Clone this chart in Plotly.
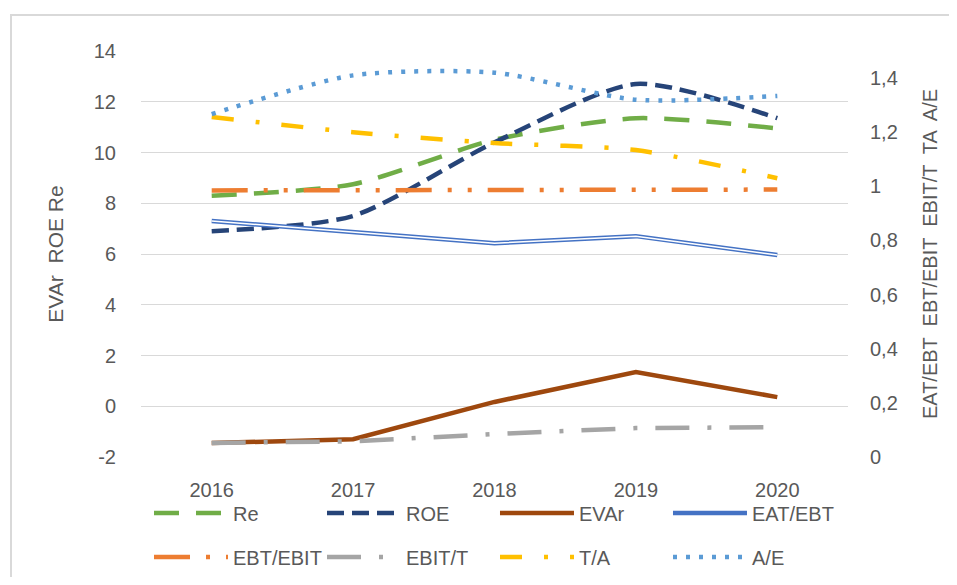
import plotly.graph_objects as go

years = ["2016", "2017", "2018", "2019", "2020"]

# left axis series
re_vals = [8.3, 8.75, 10.5, 11.35, 10.95]
roe_vals = [6.9, 7.5, 10.4, 12.7, 11.35]
evar_vals = [-1.45, -1.3, 0.17, 1.35, 0.36]

# right axis series
eat_ebt = [0.872, 0.83, 0.79, 0.816, 0.746]
ebt_ebit = [0.985, 0.985, 0.985, 0.985, 0.988]
ebit_t = [0.052, 0.058, 0.085, 0.107, 0.11]
t_a = [1.256, 1.2, 1.16, 1.134, 1.03]
a_e = [1.267, 1.41, 1.42, 1.32, 1.334]

left_ticks = [-2, 0, 2, 4, 6, 8, 10, 12, 14]
left_ticktext = ["-2", "0", "2", "4", "6", "8", "10", "12", "14"]
right_ticks = [0, 0.2, 0.4, 0.6, 0.8, 1.0, 1.2, 1.4]
right_ticktext = ["0", "0,2", "0,4", "0,6", "0,8", "1", "1,2", "1,4"]

FONT = "Liberation Sans"
GRAY = "#595959"
W = 4.5
SM = 0.7
TS = 20  # tick font size

fig = go.Figure()

def add(name, y, color, dash, axis, shape="linear", legend="legend", width=W, showlegend=True):
    fig.add_trace(go.Scatter(
        x=years, y=y, name=name, mode="lines",
        line=dict(color=color, width=width, dash=dash, shape=shape, smoothing=SM),
        yaxis=axis, legend=legend, showlegend=showlegend, hoverinfo="skip"))

# right axis traces first (drawn underneath)
add("EAT/EBT", eat_ebt, "#4472C4", "solid", "y2", legend="legend")
add("EAT/EBT_inner", eat_ebt, "white", "solid", "y2", width=1.5, showlegend=False)
add("EBT/EBIT", ebt_ebit, "#ED7D31", "36px,16px,4px,16px,4px,16px", "y2", legend="legend2")
add("EBIT/T", ebit_t, "#A5A5A5", "34px,18px,4px,18px", "y2", legend="legend2")
add("T/A", t_a, "#FFC000", "22px,22px,4px,22px", "y2", shape="spline", legend="legend2")
add("A/E", a_e, "#5B9BD5", "4px,9px", "y2", shape="spline", legend="legend2")
# left axis traces
add("Re", re_vals, "#70AD47", "25px,17px", "y", shape="spline", legend="legend")
add("ROE", roe_vals, "#264478", "17px,8px", "y", shape="spline", legend="legend")
add("EVAr", evar_vals, "#9E480E", "solid", "y", legend="legend")

order1 = {"Re": 1, "ROE": 2, "EVAr": 3, "EAT/EBT": 4}
order2 = {"EBT/EBIT": 1, "EBIT/T": 2, "T/A": 3, "A/E": 4}
for tr in fig.data:
    if tr.name in order1:
        tr.legendrank = order1[tr.name]
    elif tr.name in order2:
        tr.legendrank = order2[tr.name]

legend_common = dict(orientation="h", xanchor="left", yanchor="middle",
                     entrywidth=84, entrywidthmode="pixels", itemwidth=74,
                     font=dict(family=FONT, size=20, color=GRAY),
                     bgcolor="rgba(0,0,0,0)", traceorder="normal")

fx0 = (11 - 141) / 707
fx1 = (990 - 141) / 707
fy0 = (457 - 620) / 406
fy1 = (457 - 15) / 406

fig.update_layout(
    width=941, height=569,
    margin=dict(l=133, r=101, t=43, b=120, autoexpand=False),
    paper_bgcolor="white", plot_bgcolor="white",
    font=dict(family=FONT, color=GRAY),
    showlegend=True,
    legend=dict(x=0.0113, y=(457 - 513) / 406, **legend_common),
    legend2=dict(x=0.0113, y=(457 - 557) / 406, **legend_common),
    xaxis=dict(type="category", range=[-0.5, 4.5], showgrid=False, zeroline=False,
               showline=False, ticks="outside", ticklen=15, tickcolor="rgba(0,0,0,0)",
               tickfont=dict(family=FONT, size=TS, color=GRAY), automargin=False),
    yaxis=dict(range=[-2, 14], tickvals=left_ticks, ticktext=left_ticktext,
               showgrid=True, gridcolor="#D9D9D9", gridwidth=1.3,
               zeroline=False, showline=False, automargin=False, ticklabelstandoff=24,
               tickfont=dict(family=FONT, size=TS, color=GRAY),
               title=dict(text="EVAr  ROE Re", font=dict(family=FONT, size=21, color=GRAY), standoff=24)),
    yaxis2=dict(range=[0, 1.5], tickvals=right_ticks, ticktext=right_ticktext,
                overlaying="y", side="right", showgrid=False, automargin=False,
                zeroline=False, showline=False, ticklabelstandoff=21,
                tickfont=dict(family=FONT, size=TS, color=GRAY),
                title=dict(text="EAT/EBT  EBT/EBIT  EBIT/T  TA  A/E",
                           font=dict(family=FONT, size=20, color=GRAY), standoff=26)),
    shapes=[dict(type="path", xref="paper", yref="paper",
                 path=f"M {fx0},{fy0} L {fx0},{fy1} L {fx1},{fy1}",
                 line=dict(color="#D9D9D9", width=2), layer="below")],
)

fig.write_html("out.html")
